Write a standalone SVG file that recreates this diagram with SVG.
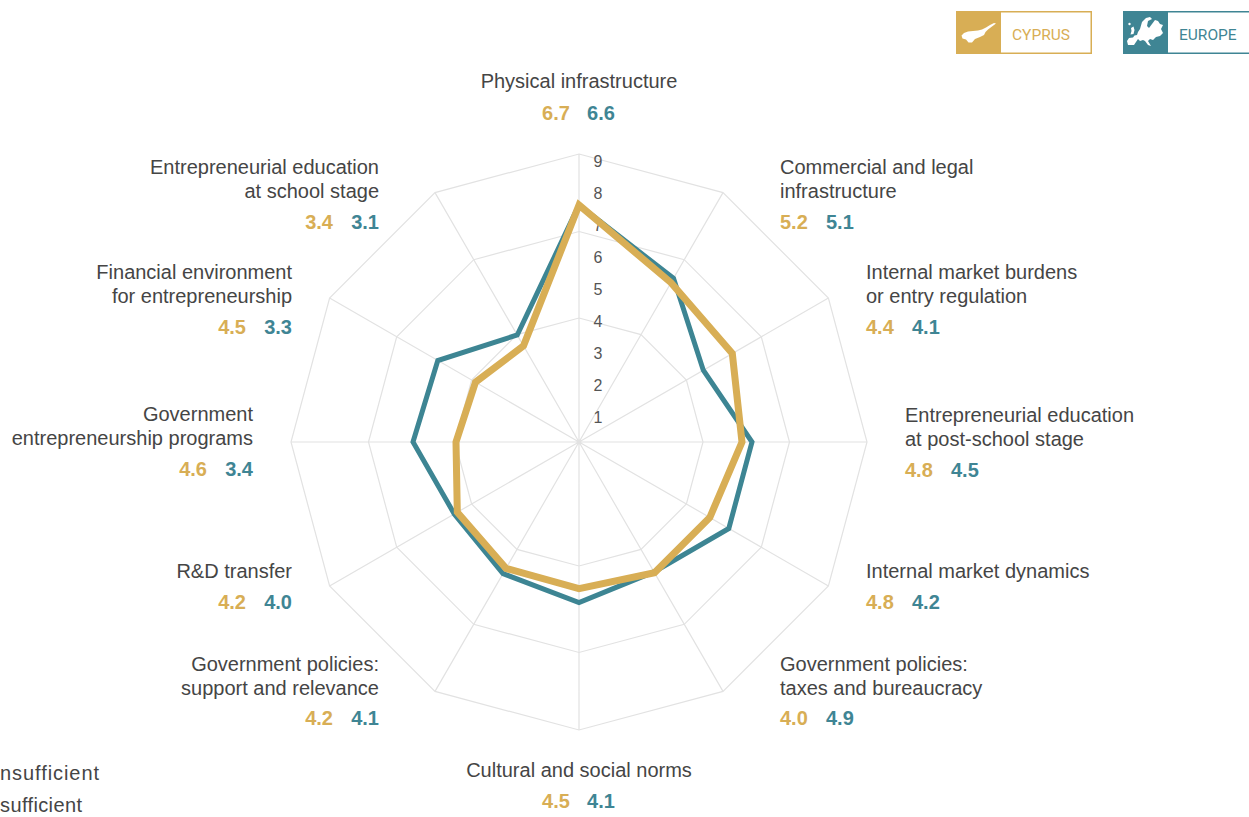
<svg xmlns="http://www.w3.org/2000/svg" width="1249" height="817" viewBox="0 0 1249 817">
<style>
.lbl{font-family:"Liberation Sans",Arial,sans-serif;font-size:20px;fill:#454545}
.val{font-family:"Liberation Sans",Arial,sans-serif;font-size:20px;font-weight:bold}
.cy{fill:#D8AE55}
.eu{fill:#3F8594}
.tick{font-family:"Liberation Sans",Arial,sans-serif;font-size:16px;fill:#555;text-anchor:middle}
.grid{fill:none;stroke:#e2e2e2;stroke-width:1.2}
.leg{font-family:Roboto,"Liberation Sans",sans-serif;font-size:15.5px;font-weight:400}
.e{text-anchor:end}
.m{text-anchor:middle}
</style>
<rect width="1249" height="817" fill="#fff"/>

<g id="grid">
<polygon class="grid" points="579,318 641,334.6 686.4,380 703,442 686.4,504 641,549.4 579,566 517,549.4 471.6,504 455,442 471.6,380 517,334.6"/>
<polygon class="grid" points="579,231.5 684.25,259.7 761.3,336.75 789.5,442 761.3,547.25 684.25,624.3 579,652.5 473.75,624.3 396.7,547.25 368.5,442 396.7,336.75 473.75,259.7"/>
<polygon class="grid" points="579,154 723,192.6 828.4,298 867,442 828.4,586 723,691.4 579,730 435,691.4 329.6,586 291,442 329.6,298 435,192.6"/>
<path class="grid" d="M579,442L579,154M579,442L723,192.6M579,442L828.4,298M579,442L867,442M579,442L828.4,586M579,442L723,691.4M579,442L579,730M579,442L435,691.4M579,442L329.6,586M579,442L291,442M579,442L329.6,298M579,442L435,192.6"/>
</g>

<g id="scale">
<text class="tick" x="598" y="167.3">9</text>
<text class="tick" x="598" y="199.3">8</text>
<text class="tick" x="598" y="231.3">7</text>
<text class="tick" x="598" y="263.3">6</text>
<text class="tick" x="598" y="295.3">5</text>
<text class="tick" x="598" y="327.3">4</text>
<text class="tick" x="598" y="359.3">3</text>
<text class="tick" x="598" y="391.3">2</text>
<text class="tick" x="598" y="423.3">1</text>
</g>

<g id="series">
<polygon id="europe-line" fill="none" stroke="#3D8593" stroke-width="5" stroke-linejoin="miter" points="579,205 673.5,278.3 703.3,370.25 752,442 728.8,528.5 654,571.9 579,602.5 503,573.6 454.3,514 413,442 437.8,360.5 517.25,335"/>
<polygon id="cyprus-line" fill="none" stroke="#D8AE55" stroke-width="7" stroke-linejoin="miter" points="579,205 671,282.7 732.3,353.5 742,442 709.8,517.5 654.5,572.8 579,588.6 506,568.4 457.3,512.25 456,442 475.5,382.25 523.5,345.9"/>
</g>

<g id="label-physical">
<text class="lbl m" x="579" y="88">Physical infrastructure</text>
<text class="val cy m" x="556" y="120">6.7</text>
<text class="val eu m" x="601" y="120">6.6</text>
</g>
<g id="label-commercial">
<text class="lbl" x="780" y="174">Commercial and legal</text>
<text class="lbl" x="780" y="198">infrastructure</text>
<text class="val cy" x="780" y="229">5.2</text>
<text class="val eu" x="826" y="229">5.1</text>
</g>
<g id="label-burdens">
<text class="lbl" x="866" y="279">Internal market burdens</text>
<text class="lbl" x="866" y="303">or entry regulation</text>
<text class="val cy" x="866" y="334">4.4</text>
<text class="val eu" x="912" y="334">4.1</text>
</g>
<g id="label-postschool">
<text class="lbl" x="905" y="422">Entrepreneurial education</text>
<text class="lbl" x="905" y="446">at post-school stage</text>
<text class="val cy" x="905" y="477">4.8</text>
<text class="val eu" x="951" y="477">4.5</text>
</g>
<g id="label-dynamics">
<text class="lbl" x="866" y="578">Internal market dynamics</text>
<text class="val cy" x="866" y="609">4.8</text>
<text class="val eu" x="912" y="609">4.2</text>
</g>
<g id="label-taxes">
<text class="lbl" x="780" y="671">Government policies:</text>
<text class="lbl" x="780" y="695">taxes and bureaucracy</text>
<text class="val cy" x="780" y="725">4.0</text>
<text class="val eu" x="826" y="725">4.9</text>
</g>
<g id="label-cultural">
<text class="lbl m" x="579" y="777">Cultural and social norms</text>
<text class="val cy m" x="556" y="808">4.5</text>
<text class="val eu m" x="601" y="808">4.1</text>
</g>
<g id="label-support">
<text class="lbl e" x="379" y="671">Government policies:</text>
<text class="lbl e" x="379" y="695">support and relevance</text>
<text class="val cy e" x="333" y="725">4.2</text>
<text class="val eu e" x="379" y="725">4.1</text>
</g>
<g id="label-rd">
<text class="lbl e" x="292" y="578">R&amp;D transfer</text>
<text class="val cy e" x="246" y="609">4.2</text>
<text class="val eu e" x="292" y="609">4.0</text>
</g>
<g id="label-programs">
<text class="lbl e" x="253" y="421">Government</text>
<text class="lbl e" x="253" y="445">entrepreneurship programs</text>
<text class="val cy e" x="207" y="476">4.6</text>
<text class="val eu e" x="253" y="476">3.4</text>
</g>
<g id="label-financial">
<text class="lbl e" x="292" y="279">Financial environment</text>
<text class="lbl e" x="292" y="303">for entrepreneurship</text>
<text class="val cy e" x="246" y="334">4.5</text>
<text class="val eu e" x="292" y="334">3.3</text>
</g>
<g id="label-school">
<text class="lbl e" x="379" y="174">Entrepreneurial education</text>
<text class="lbl e" x="379" y="198">at school stage</text>
<text class="val cy e" x="333" y="229">3.4</text>
<text class="val eu e" x="379" y="229">3.1</text>
</g>

<g id="scale-note">
<text class="lbl" x="0" y="780" textLength="99" lengthAdjust="spacing">nsufficient</text>
<text class="lbl" x="0" y="812" textLength="82" lengthAdjust="spacing">sufficient</text>
</g>

<g id="legend-cyprus">
<rect x="956.75" y="11.75" width="134.5" height="41.5" fill="#fff" stroke="#D8AE55" stroke-width="1.5"/>
<rect x="956" y="11" width="45" height="43" fill="#D8AE55"/>
<path fill="#fff" d="M961.5,35.5 L964,33 L968,31.5 L973,31 L978,30.5 L982,29.5 L986,27.5 L990,25 L994,23 L996,23.5 L992,26.5 L988,29.5 L985.5,32 L984,35 L980,37 L975,39 L972,42.5 L968.5,42.5 L966,39.5 L962.5,38.5 Z"/>
<text class="leg cy" x="1012" y="39.5">CYPRUS</text>
</g>
<g id="legend-europe">
<rect x="1123.75" y="11.75" width="140" height="41.5" fill="#fff" stroke="#3F8594" stroke-width="1.5"/>
<rect x="1123" y="11" width="45" height="43" fill="#3F8594"/>
<g fill="#fff">
<circle cx="1129.5" cy="24" r="1.2"/>
<path d="M1131,28 L1133.5,26.5 L1134.5,30 L1133.5,34 L1130.5,34.5 L1131.5,31 Z"/>
<path d="M1140,29 L1142,22 L1146,18 L1150,17 L1152,19 L1148,21 L1147,26 L1149,28 L1152,24 L1155,20 L1158,21 L1160,24 L1163,25 L1161,29 L1163,33 L1160,36 L1156,37 L1153,40 L1150,39 L1148,41 L1151,46 L1148,45 L1145,41 L1143,40 L1140,41 L1138,39 L1136,42 L1134,45 L1128,45 L1127,41 L1129,38 L1133,37.5 L1134.5,35.5 L1137,35 L1138,32 Z"/>
</g>
<text class="leg eu" x="1179" y="39.5">EUROPE</text>
</g>
</svg>
